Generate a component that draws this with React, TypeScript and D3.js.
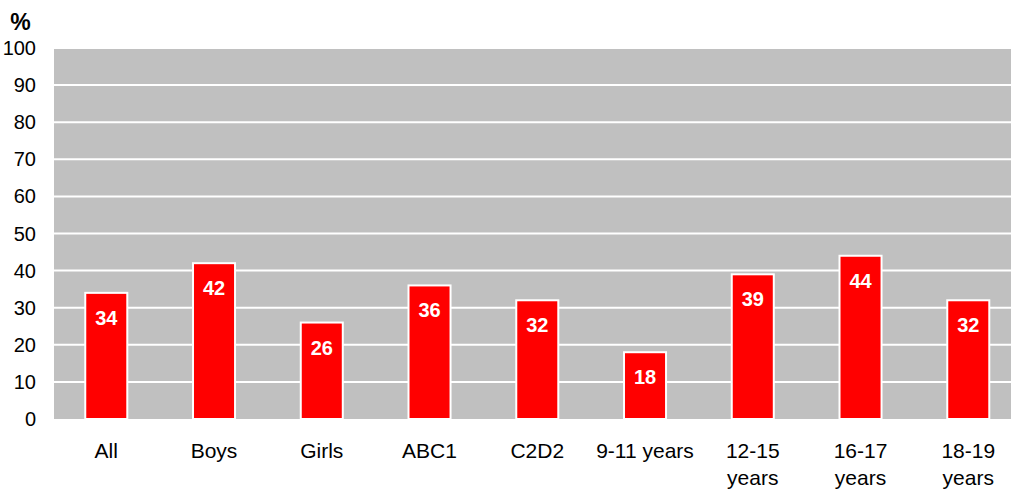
import React, { useEffect, useRef } from 'react';
import * as d3 from 'd3';

const categories = ['All', 'Boys', 'Girls', 'ABC1', 'C2D2', '9-11 years', '12-15 years', '16-17 years', '18-19 years'];
const categoryLines = [['All'], ['Boys'], ['Girls'], ['ABC1'], ['C2D2'], ['9-11 years'], ['12-15', 'years'], ['16-17', 'years'], ['18-19', 'years']];
const values = [34, 42, 26, 36, 32, 18, 39, 44, 32];
const yTicks = [0, 10, 20, 30, 40, 50, 60, 70, 80, 90, 100];

const App: React.FC = () => {
    const svgRef = useRef<SVGSVGElement>(null);

    useEffect(() => {
        if (!svgRef.current) return;
        const svg = d3.select(svgRef.current);
        svg.selectAll('*').remove();

        // plot area runs past the right edge of the picture (chart is cropped)
        const left = 54, right = 1011, top = 48, bottom = 419;
        const font = 'Liberation Sans, Arial, sans-serif';

        const x = d3.scaleBand<string>().domain(categories).range([52.4, 52.4 + 9 * 107.75]).paddingInner(0.61).paddingOuter(0.305);
        const y = d3.scaleLinear().domain([0, 100]).range([bottom, top]);

        svg.append('rect')
            .attr('x', left).attr('y', top)
            .attr('width', right - left).attr('height', bottom - top)
            .attr('fill', '#c0c0c0');

        svg.selectAll('line.grid')
            .data(yTicks.slice(1))
            .enter().append('line')
            .attr('class', 'grid')
            .attr('x1', left).attr('x2', right)
            .attr('y1', d => y(d)).attr('y2', d => y(d))
            .attr('stroke', '#fff').attr('stroke-width', 2);

        svg.selectAll('text.ytick')
            .data(yTicks)
            .enter().append('text')
            .attr('class', 'ytick')
            .attr('x', 36)
            .attr('y', d => y(d))
            .attr('dy', '0.35em')
            .attr('text-anchor', 'end')
            .attr('font-family', font)
            .attr('font-size', 20)
            .attr('fill', '#000')
            .text(d => d);

        svg.append('text')
            .attr('x', 20.5).attr('y', 30)
            .attr('text-anchor', 'middle')
            .attr('font-family', font)
            .attr('font-size', 23)
            .attr('font-weight', 'bold')
            .text('%');

        svg.selectAll('rect.bar')
            .data(values)
            .enter().append('rect')
            .attr('class', 'bar')
            .attr('x', (d, i) => x(categories[i])!)
            .attr('y', d => y(d))
            .attr('width', x.bandwidth())
            .attr('height', d => y(0) - y(d))
            .attr('fill', '#ff0000')
            .attr('stroke', '#fff')
            .attr('stroke-width', 2);

        svg.selectAll('text.val')
            .data(values)
            .enter().append('text')
            .attr('class', 'val')
            .attr('x', (d, i) => x(categories[i])! + x.bandwidth() / 2)
            .attr('y', d => y(d) + 25)
            .attr('dy', '0.35em')
            .attr('text-anchor', 'middle')
            .attr('font-family', font)
            .attr('font-size', 20)
            .attr('font-weight', 'bold')
            .attr('fill', '#fff')
            .text(d => d);

        const cat = svg.selectAll('text.cat')
            .data(categoryLines)
            .enter().append('text')
            .attr('class', 'cat')
            .attr('text-anchor', 'middle')
            .attr('font-family', font)
            .attr('font-size', 21)
            .attr('fill', '#000');
        cat.each(function (lines, i) {
            const cx = x(categories[i])! + x.bandwidth() / 2;
            d3.select(this).selectAll('tspan')
                .data(lines)
                .enter().append('tspan')
                .attr('x', cx)
                .attr('y', (l, j) => 451 + j * 27)
                .attr('dy', '0.35em')
                .text(l => l);
        });
    }, []);

    return (
        <svg ref={svgRef} width={1011} height={489}
            style={{ position: 'absolute', left: 0, top: 0, background: '#fff' }} />
    );
};

export default App;
